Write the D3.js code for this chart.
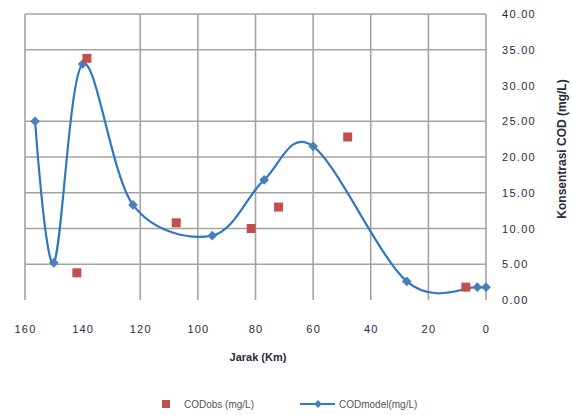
<!DOCTYPE html>
<html><head><meta charset="utf-8">
<script src="https://cdn.jsdelivr.net/npm/d3@7"></script>
<style>body{margin:0;background:#fff}svg{display:block}</style>
</head><body>
<svg id="c" width="572" height="415"></svg>
<script>
const modelDist = [156.5, 150, 140, 122.5, 95, 77, 60, 27.5, 3, 0];
const modelCOD  = [25.0, 5.2, 33.0, 13.3, 9.0, 16.8, 21.5, 2.6, 1.8, 1.8];
const obsDist = [138.5, 142, 107.5, 81.5, 72, 48, 7];
const obsCOD  = [33.8, 3.8, 10.8, 10.0, 13.0, 22.8, 1.8];
const xTicks = [160, 140, 120, 100, 80, 60, 40, 20, 0];
const yTicks = [0, 5, 10, 15, 20, 25, 30, 35, 40];
const xGrid = [160, 120, 100, 80, 60, 40, 20, 0];
const yGrid = [5, 10, 15, 20, 25, 35, 40];

const svg = d3.select("#c");
const x = d3.scaleLinear().domain([160, 0]).range([25, 486]);
const y = d3.scaleLinear().domain([0, 40]).range([300, 14]);
const gridCol = "#a3a3a3";
const font = "Liberation Sans, Arial, sans-serif";

// grid
svg.append("g").selectAll("line").data(xGrid).join("line")
  .attr("x1", d => x(d)).attr("x2", d => x(d)).attr("y1", y(40)).attr("y2", y(0))
  .attr("stroke", gridCol).attr("stroke-width", 1.6);
svg.append("g").selectAll("line").data(yGrid).join("line")
  .attr("x1", x(160)).attr("x2", x(0)).attr("y1", d => y(d)).attr("y2", d => y(d))
  .attr("stroke", gridCol).attr("stroke-width", 1.6);

// axes labels via d3 axes
const xAxis = svg.append("g").attr("transform", "translate(0,322)")
  .call(d3.axisBottom(x).tickValues(xTicks).tickSize(0).tickFormat(d3.format("d")));
xAxis.select(".domain").remove();
xAxis.selectAll("text").attr("font-family", font).attr("font-size", 11)
  .attr("letter-spacing", 1.2).attr("fill", "#2a2a3a");

const yAxis = svg.append("g").attr("transform", "translate(500,0)")
  .call(d3.axisRight(y).tickValues(yTicks).tickSize(0).tickFormat(d3.format(".2f")));
yAxis.select(".domain").remove();
yAxis.selectAll("text").attr("font-family", font).attr("font-size", 11)
  .attr("letter-spacing", 1.3).attr("fill", "#2a2a3a").attr("x", 2);

// axis titles
svg.append("text").attr("x", 258).attr("y", 361).attr("text-anchor", "middle")
  .attr("font-family", font).attr("font-size", 11).attr("font-weight", "bold")
  .attr("fill", "#2a2a3a").text("Jarak (Km)");
svg.append("text").attr("transform", "translate(566,149) rotate(-90)")
  .attr("text-anchor", "middle").attr("font-family", font).attr("font-size", 12)
  .attr("font-weight", "bold").attr("fill", "#2a2a3a").text("Konsentrasi COD (mg/L)");

// model line
const modelData = modelDist.map((d, i) => [d, modelCOD[i]]);
const line = d3.line().x(d => x(d[0])).y(d => y(d[1])).curve(d3.curveCardinal.tension(0));
const blue = "#2f78c2", blueM = "#4a7ebb", red = "#c0504d";
svg.append("path").datum(modelData).attr("d", line)
  .attr("fill", "none").attr("stroke", blue).attr("stroke-width", 2.2);
const diamond = d3.symbol().type(d3.symbolDiamond2).size(60);
svg.append("g").selectAll("path").data(modelData).join("path")
  .attr("transform", d => `translate(${x(d[0])},${y(d[1])})`)
  .attr("d", diamond).attr("fill", blueM);

// observed squares
const obsData = obsDist.map((d, i) => [d, obsCOD[i]]);
svg.append("g").selectAll("rect").data(obsData).join("rect")
  .attr("x", d => x(d[0]) - 4.5).attr("y", d => y(d[1]) - 4.5)
  .attr("width", 9).attr("height", 9).attr("fill", red);

// legend
const lg = svg.append("g");
lg.append("rect").attr("x", 162).attr("y", 400).attr("width", 8).attr("height", 8).attr("fill", red);
lg.append("text").attr("x", 184).attr("y", 408).attr("font-family", font).attr("font-size", 10)
  .attr("fill", "#555").text("CODobs (mg/L)");
lg.append("line").attr("x1", 300).attr("x2", 335).attr("y1", 404).attr("y2", 404)
  .attr("stroke", blue).attr("stroke-width", 2);
lg.append("path").attr("transform", "translate(318,404)").attr("d", d3.symbol().type(d3.symbolDiamond2).size(40)).attr("fill", blueM);
lg.append("text").attr("x", 339).attr("y", 408).attr("font-family", font).attr("font-size", 10)
  .attr("fill", "#555").text("CODmodel(mg/L)");
</script>
</body></html>
